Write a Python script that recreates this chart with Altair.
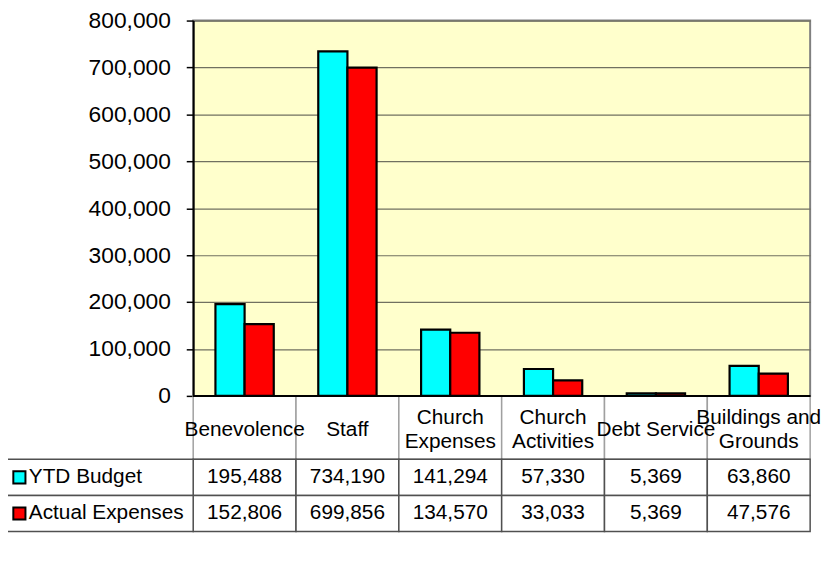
import altair as alt
import pandas as pd

categories = ["Benevolence", "Staff", "Church Expenses", "Church Activities", "Debt Service", "Buildings and Grounds"]
header_labels = ["Benevolence", "Staff", "Church\nExpenses", "Church\nActivities", "Debt Service", "Buildings and\nGrounds"]
header_lines = [1, 1, 2, 2, 1, 2]
series = ["YTD Budget", "Actual Expenses"]
ytd_budget = [195488, 734190, 141294, 57330, 5369, 63860]
actual_expenses = [152806, 699856, 134570, 33033, 5369, 47576]
colors = ["#00FFFF", "#FF0000"]

rows = []
for i, c in enumerate(categories):
    rows.append({"category": c, "series": series[0], "value": ytd_budget[i]})
    rows.append({"category": c, "series": series[1], "value": actual_expenses[i]})
df = pd.DataFrame(rows)
cat_df = pd.DataFrame({"category": categories, "label": header_labels, "lines": header_lines})
ser_df = pd.DataFrame({"series": series})

FONT = "Liberation Sans"
W, H = 623, 379
ROW_RANGE = [443, 516]

xscale = alt.Scale(domain=categories, paddingInner=0, paddingOuter=0)
X = alt.X("category:N", scale=xscale, axis=None)
Xc = alt.X("category:N", scale=xscale, axis=None, bandPosition=0.5)
color = alt.Color("series:N", scale=alt.Scale(domain=series, range=colors), legend=None)
row_y = alt.Y("series:N", scale=alt.Scale(domain=series, range=ROW_RANGE, paddingInner=0, paddingOuter=0), axis=None)
row_yc = alt.Y("series:N", scale=alt.Scale(domain=series, range=ROW_RANGE, paddingInner=0, paddingOuter=0), axis=None, bandPosition=0.5)

header_rect = alt.Chart(cat_df).mark_rect(fill="white", stroke="#A0A0A0", strokeWidth=1.5).encode(
    x=X, y=alt.value(H), y2=alt.value(443)
)

bars = alt.Chart(df).mark_bar(stroke="black", strokeWidth=2.2).encode(
    x=X,
    xOffset=alt.XOffset("series:N", scale=alt.Scale(domain=series, paddingInner=0, paddingOuter=0.763)),
    y=alt.Y("value:Q", scale=alt.Scale(domain=[0, 800000], nice=False),
            axis=alt.Axis(values=list(range(0, 800001, 100000)), format=",d", title=None,
                          labelFontSize=23, labelFont=FONT, labelColor="black",
                          tickColor="black", tickSize=7, tickWidth=1.5,
                          domainColor="black", domainWidth=2,
                          grid=True, gridColor="#707060", gridWidth=1.2,
                          labelPadding=16)),
    color=color,
)

xline = alt.Chart(cat_df).mark_rule(color="black", strokeWidth=2).encode(
    x=alt.value(0), x2=alt.value(W), y=alt.value(H)
)

header_text1 = alt.Chart(cat_df).transform_filter("datum.lines == 1").mark_text(
    font=FONT, fontSize=21, baseline="middle", align="center", color="black").encode(
    x=Xc, y=alt.value(413), text="label:N",
)
header_text2 = alt.Chart(cat_df).transform_filter("datum.lines == 2").mark_text(
    font=FONT, fontSize=21, lineBreak="\n", lineHeight=25, baseline="middle", align="center", color="black").encode(
    x=Xc, y=alt.value(401), text="label:N",
)

cells = alt.Chart(df).mark_rect(fill="white", stroke="#505050", strokeWidth=1.5).encode(
    x=X, y=row_y
)

cell_text = alt.Chart(df).mark_text(font=FONT, fontSize=21, baseline="middle", align="center", color="black").encode(
    x=Xc, y=row_yc, text=alt.Text("value:Q", format=","),
)

legend_cells = alt.Chart(ser_df).mark_rect(fill="white", stroke="#505050", strokeWidth=1.5).encode(
    x=alt.value(-188), x2=alt.value(0), y=row_y
)

legend_sq = alt.Chart(ser_df).mark_square(size=150, opacity=1, stroke="black", strokeWidth=2).encode(
    x=alt.value(-175.5), y=row_yc, color=color,
)

legend_text = alt.Chart(ser_df).mark_text(font=FONT, fontSize=21, baseline="middle", align="left", color="black").encode(
    x=alt.value(-166), y=row_yc, text="series:N",
)

chart = alt.layer(
    header_rect, bars, xline, header_text1, header_text2, cells, cell_text, legend_cells, legend_sq, legend_text
).resolve_scale(y="independent").properties(
    width=W, height=H,
    autosize="none",
    background="white",
    padding={"left": 187, "top": 10, "right": 15, "bottom": 160},
).configure_view(
    fill="#FFFFCC", stroke="#808080", strokeWidth=2
)

chart.save("out.html", embed_options={"renderer": "svg", "actions": False})
